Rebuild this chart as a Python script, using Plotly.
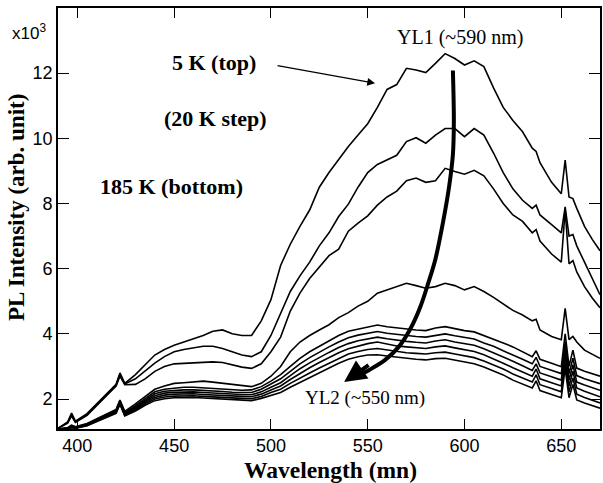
import plotly.graph_objects as go

# Wavelength grid (nm)
WAVELENGTH = [390, 395, 397, 399, 405, 410, 415, 420, 422, 424.5,
              430, 435, 440, 445, 450, 455, 460, 465, 470, 475,
              480, 485, 490, 495, 500, 505, 510, 515, 520, 525,
              530, 535, 540, 545, 550, 555, 560, 565, 570, 575,
              580, 585, 590, 595, 600, 605, 610, 615, 620, 625,
              630, 635, 637, 639, 645, 650, 652, 654, 656, 658,
              662, 666, 670]

TEMPS = ["5 K", "25 K", "45 K", "65 K", "85 K", "105 K", "125 K", "145 K", "165 K", "185 K"]

# PL intensity (x10^3, arb. unit)
I_5K = [1.10, 1.30, 1.57, 1.32, 1.55, 1.85, 2.15, 2.45, 2.80, 2.48,
        2.75, 3.05, 3.35, 3.52, 3.65, 3.75, 3.85, 3.95, 4.08, 4.12,
        4.00, 3.95, 3.95, 4.40, 5.05, 6.10, 6.75, 7.30, 7.80, 8.50,
        8.95, 9.35, 9.75, 10.10, 10.45, 10.95, 11.50, 11.65, 12.15, 12.10,
        12.02, 12.30, 12.60, 12.45, 12.25, 12.38, 12.20, 11.55, 10.95, 10.55,
        10.20, 9.70, 9.60, 9.25, 8.65, 8.30, 9.33, 8.20, 8.15, 7.85,
        7.30, 6.90, 6.55]
I_25K = [1.10, 1.28, 1.52, 1.30, 1.52, 1.82, 2.12, 2.42, 2.75, 2.46,
         2.62, 2.85, 3.10, 3.30, 3.45, 3.52, 3.58, 3.62, 3.62, 3.55,
         3.45, 3.35, 3.30, 3.45, 3.95, 4.65, 5.30, 5.78, 6.20, 6.70,
         7.10, 7.60, 7.98, 8.50, 8.95, 9.20, 9.35, 9.48, 9.90, 10.02,
         9.85, 10.10, 10.30, 10.30, 10.05, 10.30, 10.10, 9.55, 8.95, 8.45,
         8.10, 7.85, 7.95, 7.65, 7.35, 7.10, 7.90, 7.00, 7.05, 6.70,
         6.20, 5.70, 5.20]
I_45K = [1.10, 1.26, 1.48, 1.28, 1.50, 1.80, 2.10, 2.40, 2.70, 2.44,
         2.45, 2.62, 2.85, 3.00, 3.08, 3.10, 3.10, 3.12, 3.14, 3.12,
         3.05, 2.98, 2.94, 3.08, 3.45, 3.90, 4.70, 5.25, 5.70, 6.05,
         6.40, 6.60, 7.15, 7.40, 7.62, 7.95, 8.20, 8.38, 8.70, 8.78,
         8.65, 8.70, 9.08, 8.98, 8.90, 9.02, 8.85, 8.45, 8.00, 7.65,
         7.45, 7.10, 7.20, 6.85, 6.45, 6.20, 7.80, 6.15, 6.25, 5.90,
         5.45, 5.10, 4.80]
I_65K = [1.08, 1.12, 1.20, 1.15, 1.25, 1.40, 1.55, 1.68, 1.97, 1.62,
         1.85, 2.07, 2.30, 2.40, 2.48, 2.50, 2.53, 2.55, 2.52, 2.48,
         2.44, 2.40, 2.38, 2.48, 2.70, 3.00, 3.45, 3.75, 3.95, 4.12,
         4.28, 4.50, 4.65, 4.85, 5.00, 5.25, 5.35, 5.45, 5.55, 5.48,
         5.40, 5.45, 5.55, 5.48, 5.35, 5.45, 5.30, 5.12, 4.92, 4.72,
         4.58, 4.40, 4.45, 4.12, 3.92, 3.82, 4.78, 3.82, 3.92, 3.75,
         3.50, 3.38, 3.25]
I_85K = [1.08, 1.11, 1.18, 1.14, 1.23, 1.38, 1.53, 1.66, 1.95, 1.58,
         1.80, 2.02, 2.22, 2.30, 2.34, 2.36, 2.36, 2.34, 2.32, 2.30,
         2.28, 2.27, 2.28, 2.38, 2.55, 2.75, 3.00, 3.25, 3.45, 3.62,
         3.80, 3.95, 4.08, 4.15, 4.22, 4.27, 4.22, 4.18, 4.15, 4.12,
         4.10, 4.18, 4.22, 4.15, 4.10, 4.06, 3.95, 3.85, 3.72, 3.60,
         3.45, 3.30, 3.48, 3.22, 3.10, 2.99, 4.00, 3.00, 3.50, 2.95,
         2.85, 2.78, 2.70]
I_105K = [1.08, 1.10, 1.16, 1.13, 1.22, 1.36, 1.51, 1.64, 1.92, 1.56,
          1.76, 1.97, 2.16, 2.24, 2.27, 2.28, 2.28, 2.27, 2.25, 2.23,
          2.21, 2.20, 2.20, 2.30, 2.45, 2.62, 2.85, 3.08, 3.27, 3.44,
          3.60, 3.75, 3.88, 3.96, 4.02, 4.07, 4.02, 3.98, 3.95, 3.92,
          3.90, 3.96, 4.00, 3.94, 3.88, 3.84, 3.72, 3.62, 3.48, 3.36,
          3.22, 3.08, 3.28, 3.00, 2.88, 2.78, 3.75, 2.78, 3.25, 2.72,
          2.62, 2.55, 2.47]
I_125K = [1.08, 1.10, 1.15, 1.12, 1.21, 1.35, 1.49, 1.62, 1.90, 1.54,
          1.72, 1.93, 2.10, 2.18, 2.21, 2.22, 2.22, 2.20, 2.18, 2.17,
          2.15, 2.14, 2.13, 2.22, 2.36, 2.50, 2.72, 2.93, 3.11, 3.28,
          3.43, 3.58, 3.70, 3.79, 3.85, 3.90, 3.85, 3.80, 3.77, 3.74,
          3.72, 3.78, 3.82, 3.75, 3.70, 3.65, 3.54, 3.42, 3.28, 3.16,
          3.02, 2.88, 3.08, 2.80, 2.68, 2.58, 3.55, 2.58, 3.05, 2.52,
          2.43, 2.35, 2.27]
I_145K = [1.08, 1.09, 1.14, 1.11, 1.20, 1.34, 1.47, 1.60, 1.88, 1.52,
          1.69, 1.89, 2.05, 2.12, 2.15, 2.16, 2.16, 2.14, 2.12, 2.11,
          2.09, 2.08, 2.07, 2.15, 2.28, 2.40, 2.60, 2.79, 2.96, 3.12,
          3.27, 3.42, 3.54, 3.63, 3.70, 3.75, 3.69, 3.63, 3.60, 3.57,
          3.55, 3.60, 3.63, 3.57, 3.52, 3.46, 3.36, 3.24, 3.10, 2.96,
          2.83, 2.70, 2.92, 2.62, 2.50, 2.40, 3.35, 2.40, 2.85, 2.34,
          2.24, 2.15, 2.07]
I_165K = [1.08, 1.09, 1.13, 1.11, 1.19, 1.32, 1.45, 1.58, 1.86, 1.50,
          1.66, 1.85, 2.00, 2.06, 2.09, 2.10, 2.10, 2.08, 2.06, 2.05,
          2.03, 2.02, 2.01, 2.08, 2.20, 2.30, 2.48, 2.65, 2.80, 2.95,
          3.10, 3.25, 3.38, 3.46, 3.52, 3.55, 3.50, 3.45, 3.42, 3.40,
          3.38, 3.42, 3.44, 3.38, 3.33, 3.27, 3.17, 3.05, 2.92, 2.77,
          2.64, 2.52, 2.74, 2.44, 2.32, 2.22, 3.15, 2.22, 2.65, 2.15,
          2.05, 1.96, 1.88]
I_185K = [1.08, 1.09, 1.12, 1.10, 1.18, 1.30, 1.43, 1.56, 1.84, 1.48,
          1.63, 1.81, 1.95, 2.01, 2.04, 2.05, 2.05, 2.03, 2.01, 1.99,
          1.97, 1.96, 1.95, 2.02, 2.12, 2.20, 2.36, 2.51, 2.65, 2.80,
          2.95, 3.10, 3.22, 3.30, 3.35, 3.36, 3.32, 3.28, 3.25, 3.22,
          3.20, 3.24, 3.25, 3.20, 3.14, 3.08, 2.98, 2.86, 2.74, 2.58,
          2.46, 2.34, 2.56, 2.26, 2.14, 2.04, 2.95, 2.04, 2.45, 1.97,
          1.88, 1.80, 1.72]

SERIES = [I_5K, I_25K, I_45K, I_65K, I_85K, I_105K, I_125K, I_145K, I_165K, I_185K]

# Guide arrow (YL1 -> YL2) path, in data units
ARROW_NM = [594.0, 594.5, 594.0, 592.0, 588.5, 585.0, 581.5, 577.0, 572.0, 566.0, 559.0, 551.0, 545.0]
ARROW_I = [12.08, 10.5, 9.5, 8.5, 7.3, 6.3, 5.6, 4.8, 4.15, 3.6, 3.2, 2.9, 2.72]

fig = go.Figure()
for name, vals in zip(TEMPS, SERIES):
    assert len(vals) == len(WAVELENGTH), name
    fig.add_trace(go.Scatter(x=WAVELENGTH, y=vals, mode="lines", name=name,
                             line=dict(color="black", width=1.6), hoverinfo="skip"))

fig.add_trace(go.Scatter(x=ARROW_NM, y=ARROW_I, mode="lines", name="arrow",
                         line=dict(color="black", width=4, shape="spline"), hoverinfo="skip"))

serif = "Liberation Serif, Times New Roman, serif"
sans = "Liberation Sans, Arial, sans-serif"

ann = [
    dict(x=537.8, y=2.52, xref="x", yref="y", text="", showarrow=True, ax=26, ay=-18,
         arrowhead=2, arrowsize=1.1, arrowwidth=4, arrowcolor="black"),
    dict(x=553.8, y=11.69, xref="x", yref="y", text="", showarrow=True, ax=-99, ay=-18,
         arrowhead=2, arrowsize=1.3, arrowwidth=1.2, arrowcolor="black"),
    dict(x=470.8, y=12.34, xref="x", yref="y", text="<b>5 K (top)</b>", showarrow=False,
         font=dict(family=serif, size=22, color="black")),
    dict(x=471.3, y=10.62, xref="x", yref="y", text="<b>(20 K step)</b>", showarrow=False,
         font=dict(family=serif, size=22, color="black")),
    dict(x=448.6, y=8.53, xref="x", yref="y", text="<b>185 K (bottom)</b>", showarrow=False,
         font=dict(family=serif, size=22, color="black")),
    dict(x=597.5, y=13.1, xref="x", yref="y", text="YL1 (~590 nm)", showarrow=False,
         font=dict(family=serif, size=20, color="black")),
    dict(x=548.6, y=2.03, xref="x", yref="y", text="YL2 (~550 nm)", showarrow=False,
         font=dict(family=serif, size=19, color="black")),
    dict(x=-0.088, y=0.975, xref="paper", yref="paper", text="x10<sup>3</sup>", showarrow=False,
         xanchor="left", font=dict(family=sans, size=17, color="black")),
    dict(x=-0.0754, y=0.525, xref="paper", yref="paper", text="<b>PL Intensity (arb. unit)</b>",
         textangle=-90, showarrow=False, xanchor="center", yanchor="middle",
         font=dict(family=serif, size=23, color="black")),
    dict(x=0.502, y=-0.0974, xref="paper", yref="paper", text="<b>Wavelength (mn)</b>",
         showarrow=False, xanchor="center", yanchor="middle",
         font=dict(family=serif, size=23.5, color="black")),
]

fig.update_layout(
    width=603, height=483,
    margin=dict(l=58, r=1, t=8, b=54),
    paper_bgcolor="white", plot_bgcolor="white",
    showlegend=False,
    annotations=ann,
    xaxis=dict(range=[390, 670], tickvals=[400, 450, 500, 550, 600, 650],
               ticks="inside", ticklen=10, tickwidth=1.3, tickcolor="black",
               showline=True, linecolor="black", linewidth=1.6, mirror="ticks",
               showgrid=False, zeroline=False,
               tickfont=dict(family=sans, size=18, color="black")),
    yaxis=dict(range=[1.08, 14], tickvals=[2, 4, 6, 8, 10, 12],
               ticks="inside", ticklen=11, tickwidth=1.3, tickcolor="black",
               showline=True, linecolor="black", linewidth=1.6, mirror="ticks",
               showgrid=False, zeroline=False,
               tickfont=dict(family=sans, size=18, color="black")),
)

fig.write_html("out.html")
